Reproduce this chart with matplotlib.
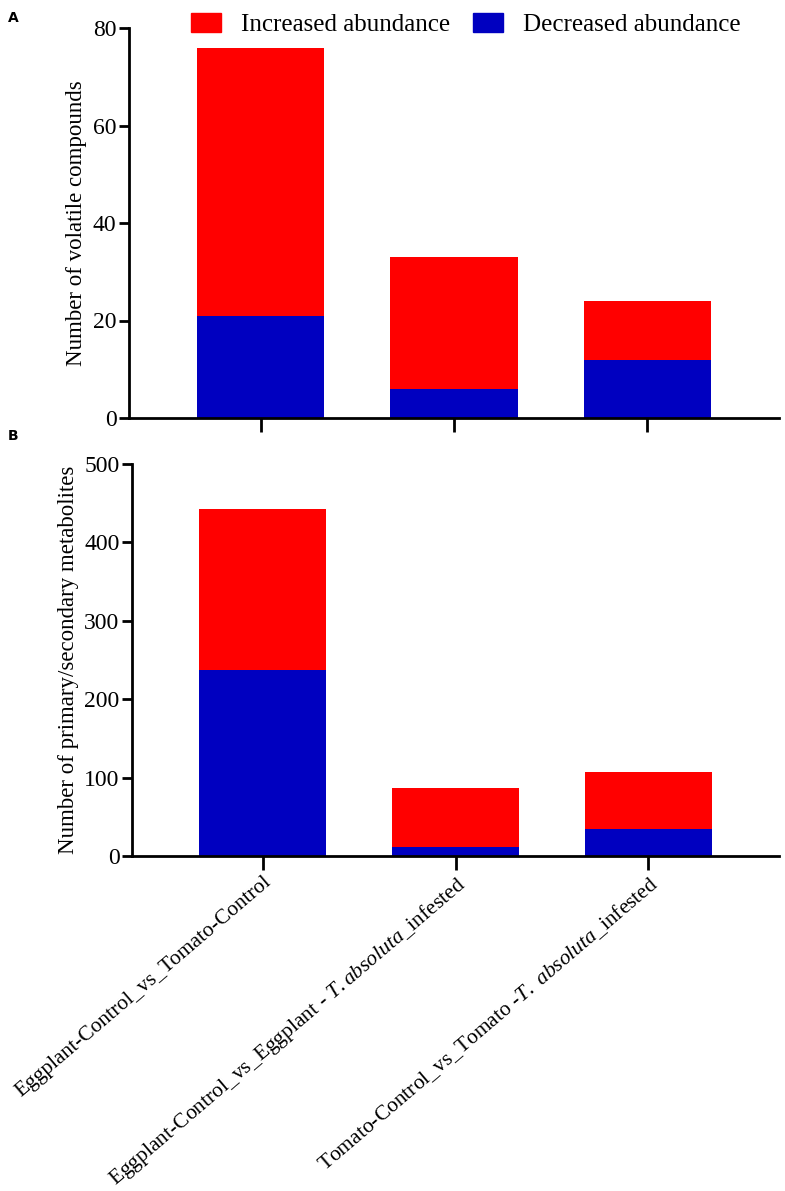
import numpy as np
import matplotlib
matplotlib.use("Agg")
import matplotlib.pyplot as plt
from matplotlib.patches import Patch

plt.rcParams['font.family'] = ['Liberation Serif', 'DejaVu Serif']
plt.rcParams['mathtext.fontset'] = 'custom'
plt.rcParams['mathtext.rm'] = 'Liberation Serif'
plt.rcParams['mathtext.it'] = 'Liberation Serif:italic'

# data
comparisons = [
    'Eggplant-Control_vs_Tomato-Control',
    r'Eggplant-Control_vs_Eggplant - $\mathit{T.absoluta}$_infested',
    r'Tomato-Control_vs_Tomato -$\mathit{T.\ absoluta}$_infested',
]
volatile_decreased = [21, 6, 12]
volatile_total = [76, 33, 24]
metab_decreased = [237, 11, 34]
metab_total = [442, 87, 107]

red = '#ff0000'
blue = '#0000c0'

W, H = 785, 1191
fig = plt.figure(figsize=(W / 100, H / 100), dpi=100)

def px_axes(left, right, top, bottom):
    return fig.add_axes([left / W, 1 - bottom / H, (right - left) / W, (bottom - top) / H])

ax_a = px_axes(129, 779, 28, 418)
ax_b = px_axes(132, 779, 464, 856)

x = np.arange(len(comparisons))
width = 0.66

def draw(ax, dec, tot, ymax, step, ylabel):
    dec = np.array(dec)
    inc = np.array(tot) - dec
    ax.bar(x, dec, width, color=blue, linewidth=0)
    ax.bar(x, inc, width, bottom=dec, color=red, linewidth=0)
    ax.set_xlim(-0.68, 2.68)
    ax.set_ylim(0, ymax)
    ax.set_yticks(np.arange(0, ymax + 1, step))
    ax.set_xticks(x)
    for s in ['top', 'right']:
        ax.spines[s].set_visible(False)
    for s in ['left', 'bottom']:
        ax.spines[s].set_linewidth(2)
    ax.tick_params(axis='y', length=7, width=2, labelsize=17, pad=2)
    ax.tick_params(axis='x', length=10, width=2, labelsize=15.5, pad=2)
    ax.set_ylabel(ylabel, fontsize=16.5, labelpad=4)

draw(ax_a, volatile_decreased, volatile_total, 80, 20, 'Number of volatile compounds')
draw(ax_b, metab_decreased, metab_total, 500, 100, 'Number of primary/secondary metabolites')

ax_a.set_xticklabels([])
ax_b.set_xticklabels(comparisons, rotation=40.5, ha='right', rotation_mode='anchor')

handles = [Patch(color=red, label='Increased abundance'),
           Patch(color=blue, label='Decreased abundance')]
fig.legend(handles=handles, loc='upper left', bbox_to_anchor=(181 / W, 1 - 3 / H),
           ncol=2, frameon=False, fontsize=18, handlelength=1.2, handleheight=0.8,
           handletextpad=0.8, columnspacing=0.9, borderaxespad=0)

fig.text(8 / W, 1 - 18 / H, 'A', fontsize=10, fontweight='bold', family='DejaVu Sans', va='center')
fig.text(8 / W, 1 - 436 / H, 'B', fontsize=10, fontweight='bold', family='DejaVu Sans', va='center')

fig.savefig('out.png', dpi=100)
